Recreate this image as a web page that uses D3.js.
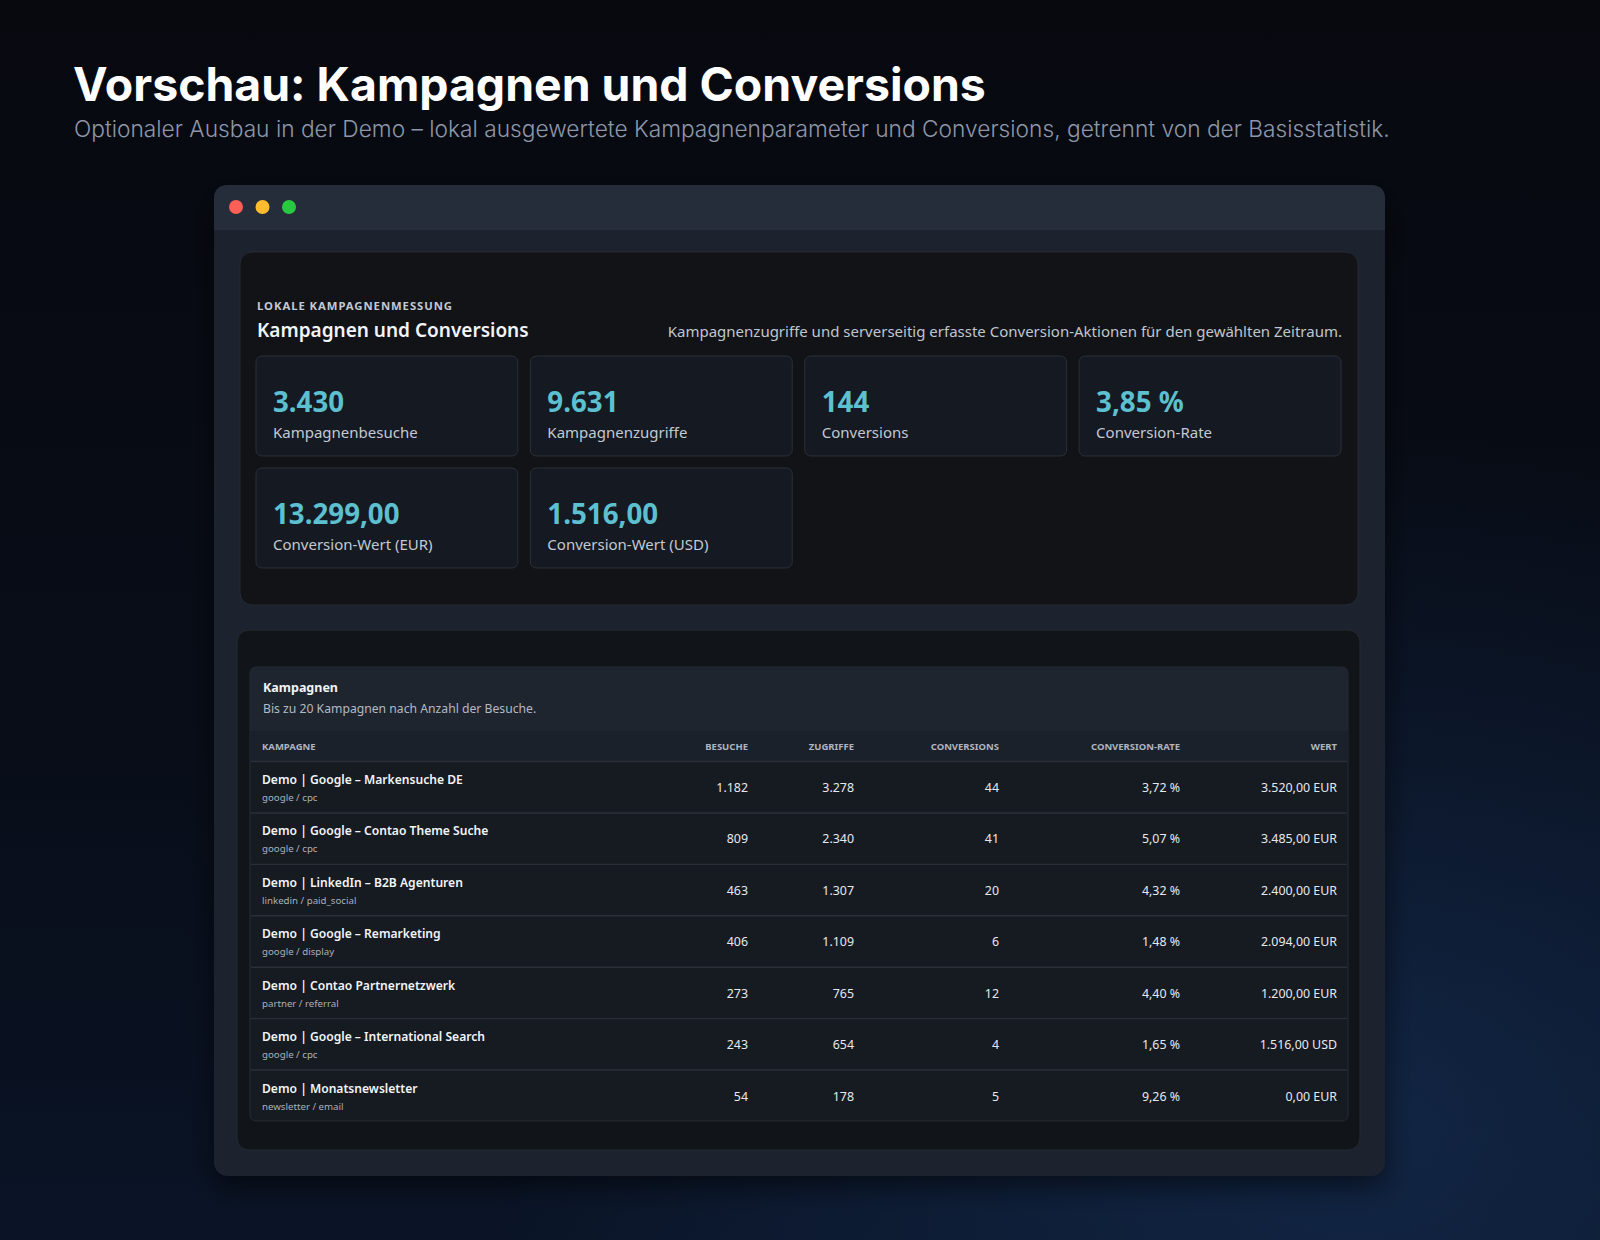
<!DOCTYPE html>
<html>
<head>
<meta charset="utf-8">
<script src="https://cdn.jsdelivr.net/npm/d3@7"></script>
<style>
  html, body { margin: 0; padding: 0; background: #070a11; }
  svg { display: block; }
</style>
</head>
<body>
<svg id="chart"></svg>
<script>
// ---- data ----
const pageTitle = "Vorschau: Kampagnen und Conversions";
const pageSubtitle = "Optionaler Ausbau in der Demo – lokal ausgewertete Kampagnenparameter und Conversions, getrennt von der Basisstatistik.";

const panelKicker = "LOKALE KAMPAGNENMESSUNG";
const panelTitle = "Kampagnen und Conversions";
const panelNote = "Kampagnenzugriffe und serverseitig erfasste Conversion-Aktionen für den gewählten Zeitraum.";

const kpiLabels = ["Kampagnenbesuche", "Kampagnenzugriffe", "Conversions", "Conversion-Rate", "Conversion-Wert (EUR)", "Conversion-Wert (USD)"];
const kpiValues = [3430, 9631, 144, 3.85, 13299, 1516];
const kpiKinds = ["int", "int", "int", "pct", "money", "money"];

const tableTitle = "Kampagnen";
const tableNote = "Bis zu 20 Kampagnen nach Anzahl der Besuche.";
const columnLabels = ["Kampagne", "Besuche", "Zugriffe", "Conversions", "Conversion-Rate", "Wert"];

const campaigns = [
  "Demo | Google – Markensuche DE",
  "Demo | Google – Contao Theme Suche",
  "Demo | LinkedIn – B2B Agenturen",
  "Demo | Google – Remarketing",
  "Demo | Contao Partnernetzwerk",
  "Demo | Google – International Search",
  "Demo | Monatsnewsletter"
];
const sources = ["google / cpc", "google / cpc", "linkedin / paid_social", "google / display", "partner / referral", "google / cpc", "newsletter / email"];
const visits = [1182, 809, 463, 406, 273, 243, 54];
const hits = [3278, 2340, 1307, 1109, 765, 654, 178];
const conversions = [44, 41, 20, 6, 12, 4, 5];
const rates = [3.72, 5.07, 4.32, 1.48, 4.40, 1.65, 9.26];
const values = [3520, 3485, 2400, 2094, 1200, 1516, 0];
const currencies = ["EUR", "EUR", "EUR", "EUR", "EUR", "USD", "EUR"];

// ---- formatting (German locale) ----
const de = d3.formatLocale({ decimal: ",", thousands: ".", grouping: [3], currency: ["", " €"] });
const fInt = de.format(",d");
const fDec = de.format(",.2f");
const fmtKpi = (v, k) => k === "int" ? fInt(v) : k === "pct" ? fDec(v) + " %" : fDec(v);

// ---- layout ----
const W = 1600, H = 1240;
const uiFont = "'Noto Sans', 'Open Sans', sans-serif";
const headFont = "Inter, 'Noto Sans', sans-serif";

const svg = d3.select("#chart").attr("width", W).attr("height", H);
const defs = svg.append("defs");

const bg = defs.append("linearGradient").attr("id", "bg").attr("x1", 0).attr("y1", 0).attr("x2", 0).attr("y2", 1);
bg.append("stop").attr("offset", "0%").attr("stop-color", "#07090f");
bg.append("stop").attr("offset", "60%").attr("stop-color", "#080d18");
bg.append("stop").attr("offset", "100%").attr("stop-color", "#0a1426");

const glow = defs.append("radialGradient").attr("id", "glow").attr("cx", 0.85).attr("cy", 0.9).attr("r", 0.55);
glow.append("stop").attr("offset", "0%").attr("stop-color", "#17345e").attr("stop-opacity", 0.55);
glow.append("stop").attr("offset", "100%").attr("stop-color", "#17345e").attr("stop-opacity", 0);

const shadow = defs.append("filter").attr("id", "shadow").attr("x", "-10%").attr("y", "-10%").attr("width", "120%").attr("height", "125%");
shadow.append("feDropShadow").attr("dx", 0).attr("dy", 10).attr("stdDeviation", 14).attr("flood-color", "#000").attr("flood-opacity", 0.55);

svg.append("rect").attr("width", W).attr("height", H).attr("fill", "url(#bg)");
svg.append("rect").attr("width", W).attr("height", H).attr("fill", "url(#glow)");

// fit a text element to a target width by scaling its font size
function fitText(sel, targetWidth) {
  const size = parseFloat(sel.attr("font-size"));
  const w = sel.node().getComputedTextLength();
  sel.attr("font-size", (size * targetWidth / w).toFixed(2));
}

// heading
const title = svg.append("text")
  .attr("x", 73).attr("y", 101)
  .attr("font-family", headFont).attr("font-weight", 700).attr("font-size", 48)
  .attr("fill", "#ffffff")
  .text(pageTitle);
fitText(title, 913);

const subtitle = svg.append("text")
  .attr("x", 74).attr("y", 137)
  .attr("font-family", headFont).attr("font-weight", 300).attr("font-size", 21)
  .attr("fill", "#8e97a9")
  .text(pageSubtitle);
fitText(subtitle, 1316);

// window frame
const win = { x: 214, y: 185, w: 1171, h: 991 };
const winG = svg.append("g");
winG.append("rect")
  .attr("x", win.x).attr("y", win.y).attr("width", win.w).attr("height", win.h)
  .attr("rx", 14).attr("fill", "#1d232d").attr("filter", "url(#shadow)");
winG.append("path")
  .attr("d", `M${win.x},${win.y + 45} V${win.y + 14} Q${win.x},${win.y} ${win.x + 14},${win.y} H${win.x + win.w - 14} Q${win.x + win.w},${win.y} ${win.x + win.w},${win.y + 14} V${win.y + 45} Z`)
  .attr("fill", "#252d3b");

const dotColors = ["#ff5f57", "#febc2e", "#28c840"];
const dotX = d3.scalePoint().domain(d3.range(dotColors.length)).range([win.x + 22, win.x + 75]);
winG.selectAll("circle.dot").data(dotColors).join("circle")
  .attr("class", "dot")
  .attr("cx", (d, i) => dotX(i)).attr("cy", win.y + 22).attr("r", 7)
  .attr("fill", d => d);

// ---- panel 1: KPIs ----
const p1 = { x: 240, y: 252, w: 1118, h: 353 };
svg.append("rect")
  .attr("x", p1.x).attr("y", p1.y).attr("width", p1.w).attr("height", p1.h)
  .attr("rx", 12).attr("fill", "#111317").attr("stroke", "#262b33").attr("stroke-width", 1);

svg.append("text")
  .attr("x", 257).attr("y", 310)
  .attr("font-family", uiFont).attr("font-weight", 700).attr("font-size", 11.3)
  .attr("letter-spacing", 0.95).attr("fill", "#c3c9d3")
  .text(panelKicker);

svg.append("text")
  .attr("x", 257).attr("y", 337)
  .attr("font-family", uiFont).attr("font-weight", 600).attr("font-size", 19)
  .attr("fill", "#f2f4f7")
  .text(panelTitle);

svg.append("text")
  .attr("x", 1342).attr("y", 337).attr("text-anchor", "end")
  .attr("font-family", uiFont).attr("font-size", 15)
  .attr("fill", "#c0c6cf")
  .text(panelNote);

const cardCol = d3.scaleBand().domain(d3.range(4)).range([256, 1341]).paddingInner(0.0455);
const cardRow = d3.scaleBand().domain(d3.range(2)).range([356, 568]).paddingInner(0.107);

const cards = svg.selectAll("g.card").data(kpiValues).join("g")
  .attr("class", "card")
  .attr("transform", (d, i) => `translate(${cardCol(i % 4)},${cardRow(Math.floor(i / 4))})`);

cards.append("rect")
  .attr("width", cardCol.bandwidth()).attr("height", cardRow.bandwidth())
  .attr("rx", 6).attr("fill", "#141922").attr("stroke", "#2a3039").attr("stroke-width", 1);

cards.append("text")
  .attr("x", 17).attr("y", 56)
  .attr("font-family", uiFont).attr("font-weight", 700).attr("font-size", 27.7)
  .attr("fill", "#5cc0d0")
  .text((d, i) => fmtKpi(d, kpiKinds[i]));

cards.append("text")
  .attr("x", 17).attr("y", 82)
  .attr("font-family", uiFont).attr("font-size", 15)
  .attr("fill", "#c4c9d2")
  .text((d, i) => kpiLabels[i]);

// ---- panel 2: table ----
const p2 = { x: 237, y: 630, w: 1123, h: 520 };
svg.append("rect")
  .attr("x", p2.x).attr("y", p2.y).attr("width", p2.w).attr("height", p2.h)
  .attr("rx", 12).attr("fill", "#111418").attr("stroke", "#252a32").attr("stroke-width", 1);

const tbl = { x: 250, y: 667, w: 1098, h: 454, headH: 64, colH: 30 };
svg.append("rect")
  .attr("x", tbl.x).attr("y", tbl.y).attr("width", tbl.w).attr("height", tbl.h)
  .attr("rx", 6).attr("fill", "#161a21").attr("stroke", "#262c35");
svg.append("path")
  .attr("d", `M${tbl.x},${tbl.y + tbl.headH} V${tbl.y + 6} Q${tbl.x},${tbl.y} ${tbl.x + 6},${tbl.y} H${tbl.x + tbl.w - 6} Q${tbl.x + tbl.w},${tbl.y} ${tbl.x + tbl.w},${tbl.y + 6} V${tbl.y + tbl.headH} Z`)
  .attr("fill", "#1e252f");
svg.append("rect")
  .attr("x", tbl.x).attr("y", tbl.y + tbl.headH).attr("width", tbl.w).attr("height", tbl.colH)
  .attr("fill", "#1b212a");

svg.append("text")
  .attr("x", 263).attr("y", 692)
  .attr("font-family", uiFont).attr("font-weight", 700).attr("font-size", 12.5)
  .attr("fill", "#f1f3f6")
  .text(tableTitle);
svg.append("text")
  .attr("x", 263).attr("y", 713)
  .attr("font-family", uiFont).attr("font-size", 12.2)
  .attr("fill", "#b4bac4")
  .text(tableNote);

// column anchors: first column left-aligned, the rest right-aligned
const colAnchor = [262, 748, 854, 999, 1180, 1337];
const headY = tbl.y + tbl.headH + 19;
svg.selectAll("text.colhead").data(columnLabels).join("text")
  .attr("class", "colhead")
  .attr("x", (d, i) => colAnchor[i]).attr("y", headY)
  .attr("text-anchor", (d, i) => i === 0 ? "start" : "end")
  .attr("font-family", uiFont).attr("font-weight", 700).attr("font-size", 9.5)
  .attr("fill", "#aeb5c0")
  .text(d => d.toUpperCase());

const rowY = d3.scaleBand().domain(d3.range(campaigns.length)).range([tbl.y + tbl.headH + tbl.colH, tbl.y + tbl.h]);

const rows = svg.selectAll("g.row").data(campaigns).join("g")
  .attr("class", "row")
  .attr("transform", (d, i) => `translate(0,${rowY(i)})`);

rows.append("line")
  .attr("x1", tbl.x + 1).attr("x2", tbl.x + tbl.w - 1)
  .attr("y1", 0.5).attr("y2", 0.5)
  .attr("stroke", "#2a3039").attr("stroke-width", 1.4);

rows.append("text")
  .attr("x", colAnchor[0]).attr("y", 23)
  .attr("font-family", uiFont).attr("font-weight", 600).attr("font-size", 12.1)
  .attr("fill", "#f2f4f7")
  .text(d => d);

rows.append("text")
  .attr("x", colAnchor[0]).attr("y", 40)
  .attr("font-family", uiFont).attr("font-size", 9.7)
  .attr("fill", "#aab1bb")
  .text((d, i) => sources[i]);

const cellText = [
  i => fInt(visits[i]),
  i => fInt(hits[i]),
  i => fInt(conversions[i]),
  i => fDec(rates[i]) + " %",
  i => fDec(values[i]) + " " + currencies[i]
];
cellText.forEach((fn, c) => {
  rows.append("text")
    .attr("x", colAnchor[c + 1]).attr("y", 31)
    .attr("text-anchor", "end")
    .attr("font-family", uiFont).attr("font-size", 12.4)
    .attr("fill", "#e6e9ee")
    .text((d, i) => fn(i));
});
</script>
</body>
</html>
